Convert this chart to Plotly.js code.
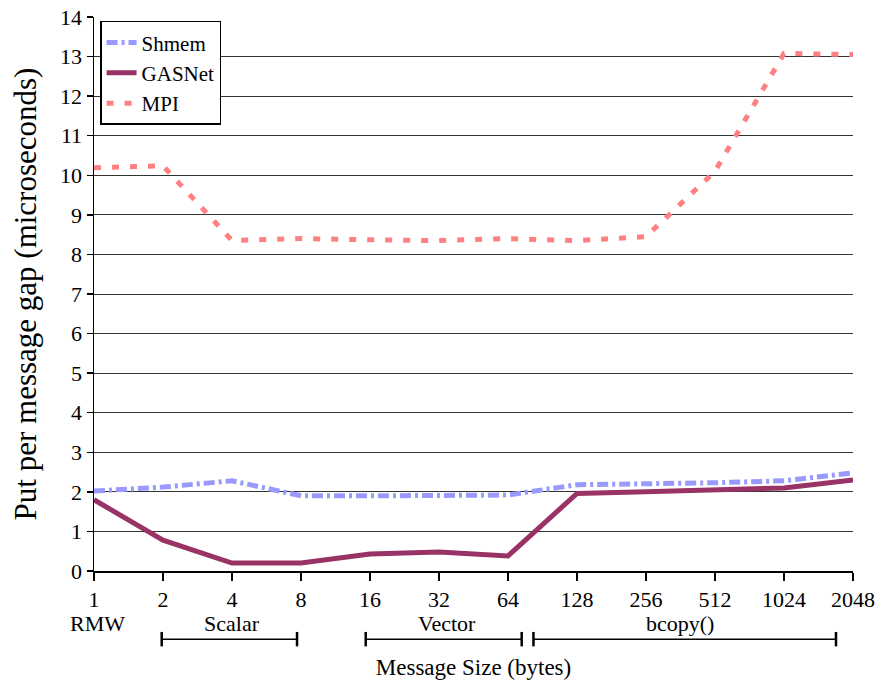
<!DOCTYPE html>
<html>
<head>
<meta charset="utf-8">
<script src="https://cdn.plot.ly/plotly-3.0.1.min.js"></script>
<style>
  html, body { margin: 0; padding: 0; background: #fff; }
  #chart { width: 880px; height: 681px; }
</style>
</head>
<body>
<div id="chart"></div>
<script>
const sizes = ['1', '2', '4', '8', '16', '32', '64', '128', '256', '512', '1024', '2048'];
const shmem = [2.02, 2.12, 2.28, 1.9, 1.9, 1.9, 1.92, 2.18, 2.2, 2.23, 2.28, 2.48];
const gasnet = [1.8, 0.78, 0.2, 0.2, 0.43, 0.48, 0.38, 1.96, 2.0, 2.05, 2.1, 2.3];
const mpi = [10.19, 10.24, 8.35, 8.4, 8.37, 8.35, 8.4, 8.35, 8.45, 10.1, 13.08, 13.05];
const yTicks = [0, 1, 2, 3, 4, 5, 6, 7, 8, 9, 10, 11, 12, 13, 14];
const groupLabels = ['RMW', 'Scalar', 'Vector', 'bcopy()'];

const FONT = 'Liberation Serif';

const traces = [
  { x: sizes, y: shmem, name: 'Shmem', type: 'scatter', mode: 'lines',
    line: { color: '#9999FF', width: 5, dash: '11px,4px,3px,4px' } },
  { x: sizes, y: gasnet, name: 'GASNet', type: 'scatter', mode: 'lines',
    line: { color: '#993366', width: 5 } },
  { x: sizes, y: mpi, name: 'MPI', type: 'scatter', mode: 'lines',
    line: { color: '#FF8080', width: 5, dash: '7px,11px' } }
];

const groupPos = [0.005, 0.182, 0.465, 0.772];
const annotations = groupLabels.map((t, i) => ({
  text: t, xref: 'paper', yref: 'paper', x: groupPos[i], y: -0.094,
  xanchor: 'center', yanchor: 'middle', showarrow: false,
  font: { family: FONT, size: 22, color: '#000' }
}));

const brackets = [[0.0892, 0.2675], [0.358, 0.5635], [0.579, 0.9776]];
const shapes = [];
brackets.forEach(([a, b]) => {
  shapes.push({ type: 'line', xref: 'paper', yref: 'paper', x0: a, x1: b, y0: -0.123, y1: -0.123, line: { color: '#000', width: 1.5 } });
  shapes.push({ type: 'line', xref: 'paper', yref: 'paper', x0: a, x1: a, y0: -0.110, y1: -0.136, line: { color: '#000', width: 2.5 } });
  shapes.push({ type: 'line', xref: 'paper', yref: 'paper', x0: b, x1: b, y0: -0.110, y1: -0.136, line: { color: '#000', width: 2.5 } });
});

const layout = {
  width: 880, height: 681,
  margin: { l: 94, r: 27, t: 17, b: 110 },
  paper_bgcolor: '#fff', plot_bgcolor: '#fff',
  font: { family: FONT, color: '#000', size: 20 },
  showlegend: true,
  legend: {
    x: 0.008, y: 0.993, xanchor: 'left', yanchor: 'top',
    bgcolor: '#fff', bordercolor: '#000', borderwidth: 1.5,
    font: { family: FONT, size: 21, color: '#000' },
    tracegroupgap: 0, itemwidth: 30
  },
  xaxis: {
    type: 'category', range: [0, 11],
    showgrid: false, showline: true, linecolor: '#000', linewidth: 1.5,
    ticks: 'outside', ticklen: 8, tickwidth: 1.5, tickcolor: '#000',
    tickfont: { family: FONT, size: 22, color: '#000' },
    title: { text: 'Message Size (bytes)', font: { family: FONT, size: 23, color: '#000' }, standoff: 48 },
    zeroline: false, fixedrange: true
  },
  yaxis: {
    range: [0, 14], tickvals: yTicks, ticktext: yTicks.map(String),
    showgrid: true, gridcolor: '#333', gridwidth: 1,
    showline: true, linecolor: '#000', linewidth: 1.5,
    ticks: 'outside', ticklen: 6, tickwidth: 1.5, tickcolor: '#000',
    tickfont: { family: FONT, size: 22, color: '#000' },
    title: { text: 'Put per message gap (microseconds)', font: { family: FONT, size: 31, color: '#000' }, standoff: 14 },
    zeroline: false, fixedrange: true
  },
  annotations: annotations,
  shapes: shapes
};

Plotly.newPlot('chart', traces, layout, { displayModeBar: false, staticPlot: true });
</script>
</body>
</html>
